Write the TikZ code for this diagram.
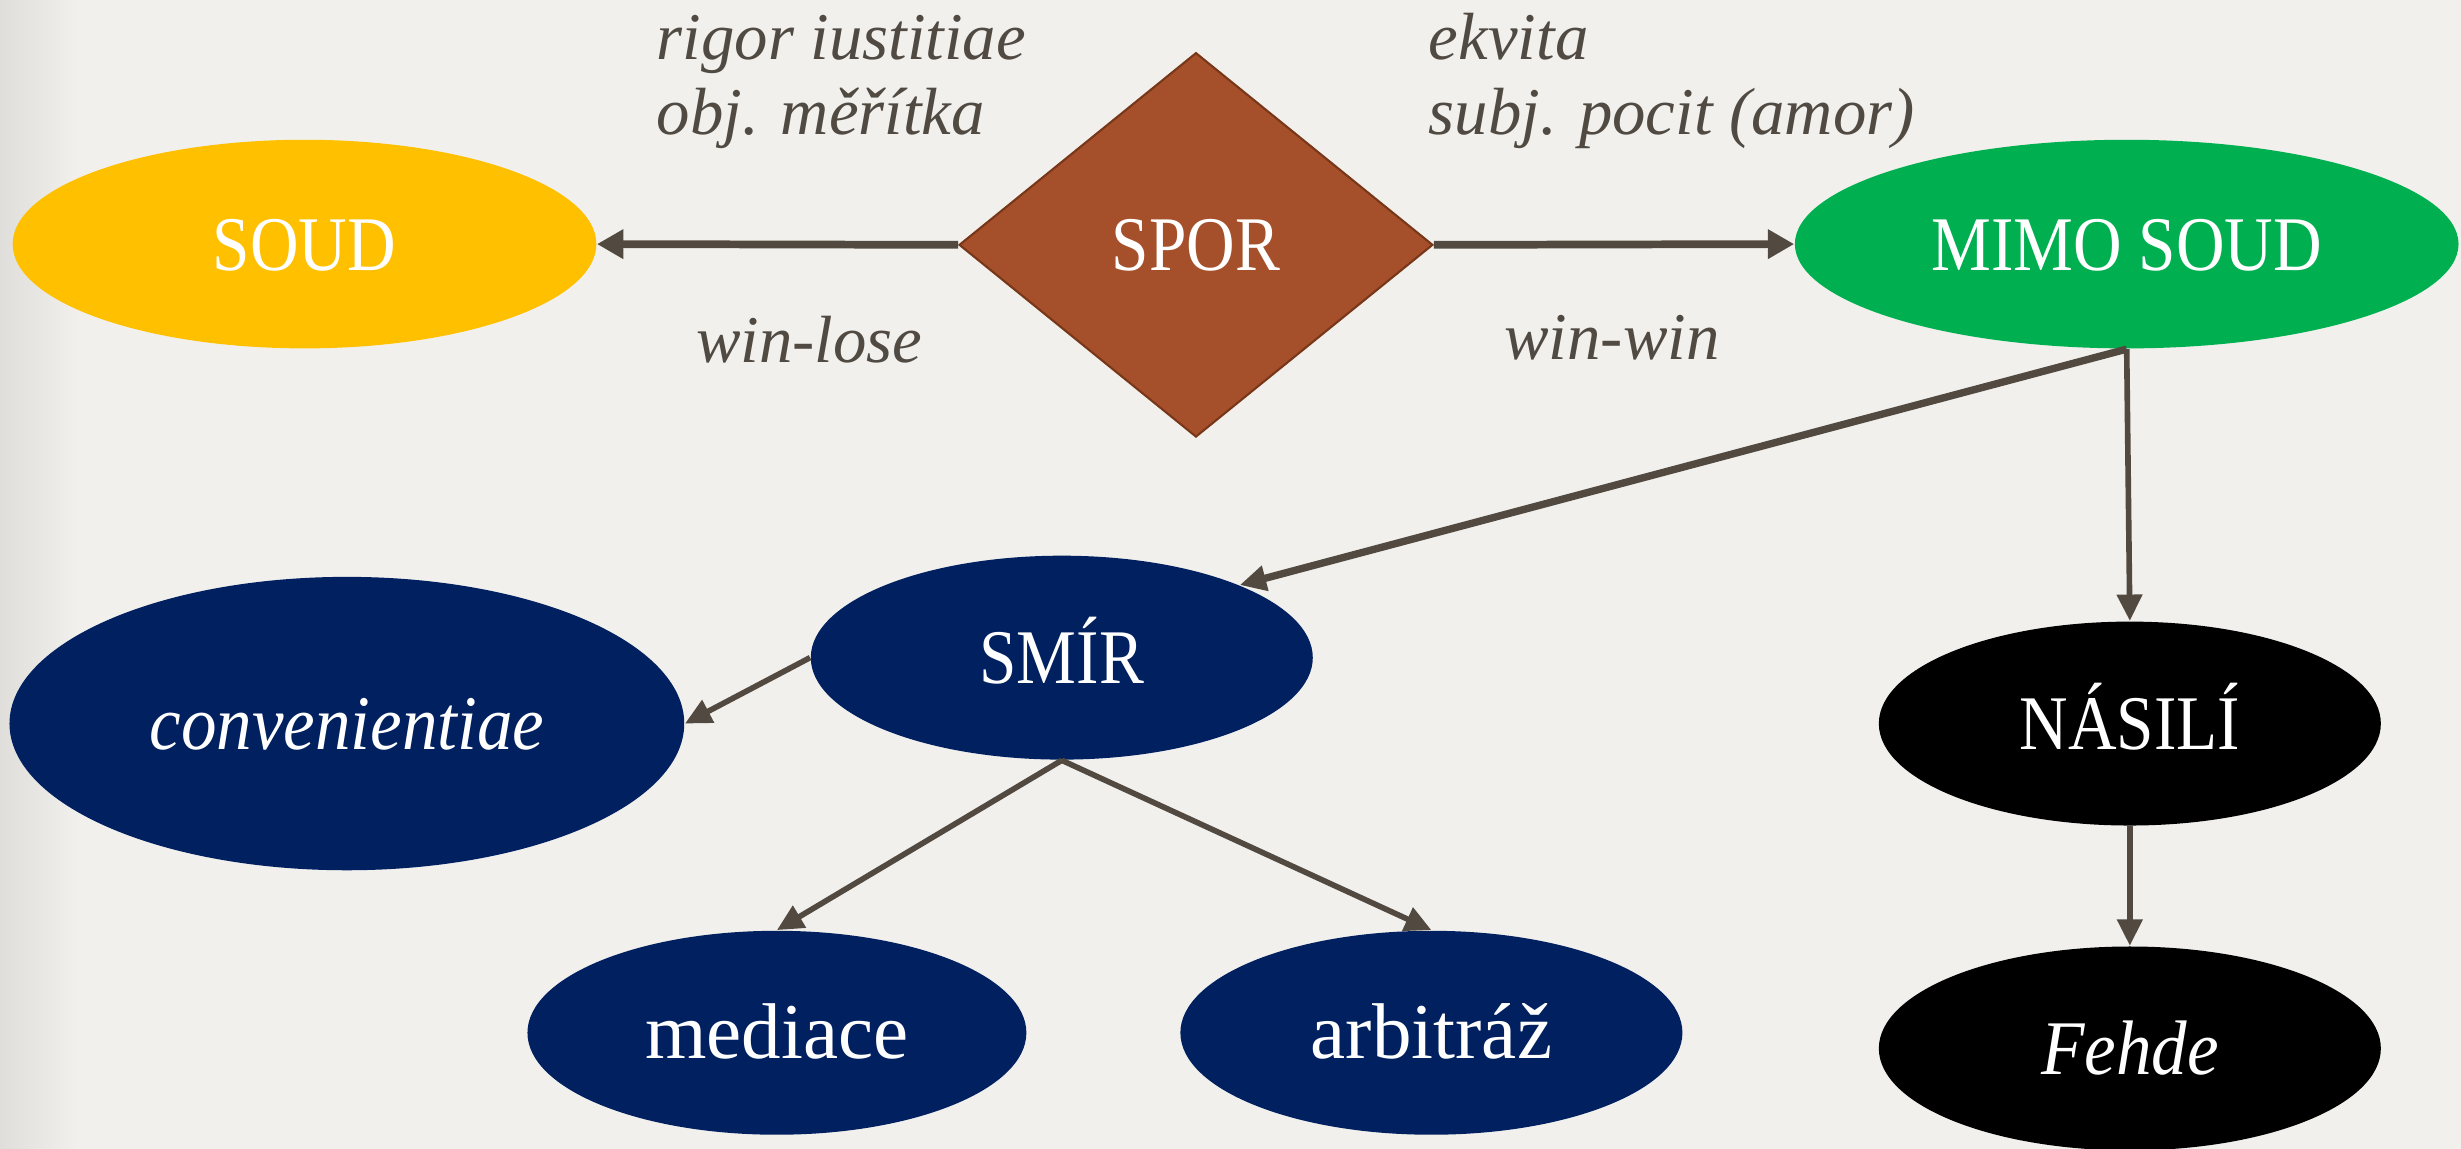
\documentclass[tikz,border=0pt]{standalone}
\usepackage{fontspec}
\setmainfont{Liberation Serif}
\newfontfamily\capsfont{Liberation Serif}[FakeStretch=0.87]
\newfontfamily\itfont{Liberation Serif}[FakeStretch=0.92]
\usetikzlibrary{shapes.geometric,arrows.meta}
\definecolor{bgpaper}{RGB}{241,240,237}
\definecolor{bgedge}{RGB}{224,222,218}
\definecolor{arrowc}{RGB}{82,74,64}
\definecolor{labelc}{RGB}{80,74,66}
\definecolor{soudc}{RGB}{255,192,0}
\definecolor{sporc}{RGB}{165,80,42}
\definecolor{sporb}{RGB}{120,55,25}
\definecolor{mimoc}{RGB}{0,176,80}
\definecolor{bluec}{RGB}{0,32,96}
\tikzset{
  ell/.style={ellipse, inner sep=0pt, text=white, text height=14.8pt, text depth=0pt},
  capsnode/.style={ell, font=\capsfont\fontsize{22}{26}\selectfont},
  lownode/.style={ell, font=\fontsize{22.5}{26}\selectfont},
  itnode/.style={ell, font=\itfont\itshape\fontsize{22}{26}\selectfont},
  diam/.style={diamond, inner sep=0pt, text=white, fill=sporc, draw=sporb, line width=0.6pt, text height=14.8pt, text depth=0pt, font=\capsfont\fontsize{22}{26}\selectfont},
  lbl/.style={anchor=base west, inner sep=0pt, text=labelc, font=\fontsize{19}{23}\selectfont\itshape},
  harrow/.style={draw=arrowc, line width=2.2pt, -{Triangle[length=7.5pt,width=8pt]}},
  darrow/.style={draw=arrowc, line width=1.6pt, -{Triangle[length=7.5pt,width=7pt]}}
}
\begin{document}
\begin{tikzpicture}[x=0.015695cm, y=-0.015695cm]
\useasboundingbox (0,0) rectangle (1568,732);
\fill[bgpaper] (0,0) rectangle (1568,732);
\shade[left color=bgedge, right color=bgpaper] (0,0) rectangle (50,732);

% nodes
\node[capsnode, fill=soudc, minimum width=5.839cm, minimum height=2.087cm] (soud) at (194,155.5) {SOUD};
\node[diam, minimum width=4.740cm, minimum height=3.845cm] (spor) at (762,156) {SPOR};
\node[capsnode, fill=mimoc, minimum width=6.639cm, minimum height=2.087cm] (mimo) at (1355,155.5) {MIMO SOUD};
\node[capsnode, fill=bluec, minimum width=5.022cm, minimum height=2.040cm] (smir) at (676.5,419) {SMÍR};
\node[itnode, fill=bluec, minimum width=6.750cm, minimum height=2.935cm] (conv) at (221,461) {convenientiae};
\node[lownode, fill=bluec, minimum width=4.991cm, minimum height=2.040cm] (mediace) at (495,658) {mediace};
\node[lownode, fill=bluec, minimum width=5.022cm, minimum height=2.040cm] (arbitraz) at (912,658) {arbitráž};
\node[capsnode, fill=black, minimum width=5.022cm, minimum height=2.040cm] (nasili) at (1357,461) {NÁSILÍ};
\node[itnode, fill=black, minimum width=5.022cm, minimum height=2.040cm] (fehde) at (1357,668) {Fehde};

% labels
\node[lbl] (l1) at (418,38) {rigor iustitiae};
\node[lbl] (l2) at (418,86) {obj. měřítka};
\node[lbl] (l3) at (910,38) {ekvita};
\node[lbl] (l4) at (910,86) {subj. pocit (amor)};
\node[lbl] (l5) at (443,231) {win-lose};
\node[lbl] (l6) at (958,229) {win-win};

% connectors
\draw[harrow] (spor.west) -- (soud.east);
\draw[harrow] (spor.east) -- (mimo.west);
\draw[darrow, line width=2.1pt] (mimo.south) -- (smir.north east);
\draw[darrow] (mimo.south) -- (nasili.north);
\draw[darrow] (smir.west) -- (conv.east);
\draw[darrow] (smir.south) -- (mediace.north);
\draw[darrow] (smir.south) -- (arbitraz.north);
\draw[darrow] (nasili.south) -- (fehde.north);
\end{tikzpicture}
\end{document}
